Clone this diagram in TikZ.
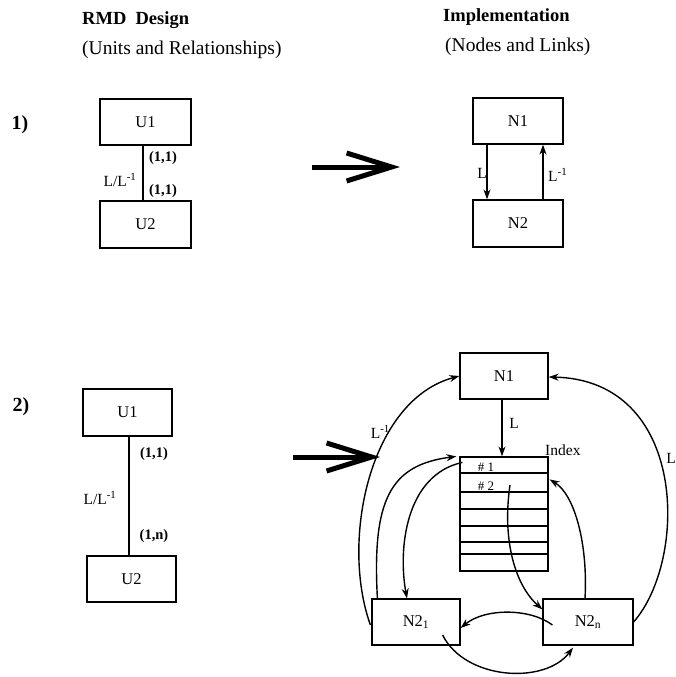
\documentclass[tikz,border=0pt]{standalone}
\usepackage{fontspec}
\setmainfont{Liberation Serif}
\usetikzlibrary{arrows.meta}
\begin{document}
\begin{tikzpicture}[x=1pt,y=1pt,
  box/.style={draw, line width=1.2pt, inner sep=0pt, font=\fontsize{16.5}{19}\selectfont},
  lbl/.style={inner sep=0pt, font=\fontsize{15.5}{18}\selectfont},
  card/.style={inner sep=0pt, font=\bfseries\fontsize{14.5}{17}\selectfont},
  title/.style={inner sep=0pt, anchor=west, font=\bfseries\fontsize{18.5}{22}\selectfont},
  subtitle/.style={inner sep=0pt, anchor=west, font=\fontsize{19.5}{23}\selectfont},
  num/.style={inner sep=0pt, font=\bfseries\fontsize{20}{24}\selectfont},
  small/.style={inner sep=0pt, font=\fontsize{13}{15}\selectfont},
  link/.style={line width=1.4pt},
  tip/.style={-{Stealth[length=10pt,width=7pt]}, line width=1.4pt},
  bigarrow/.style={-{Straight Barb[length=45pt,width=28pt]}, line width=5pt}
]
\useasboundingbox (0,0) rectangle (676,-677);

% titles
\node[title] (t1) at (82,-20) {RMD\ \ Design};
\node[subtitle] (t2) at (82,-50) {(Units and Relationships)};
\node[title] (t3) at (443,-17) {Implementation};
\node[subtitle] (t4) at (445,-47) {(Nodes and Links)};
\node[num] (c1) at (20,-125) {1)};
\node[num] (c2) at (21,-407) {2)};

% ---------- part 1 ----------
\node[box, minimum width=91pt, minimum height=46pt] (u1a) at (145.5,-122) {U1};
\node[box, minimum width=91pt, minimum height=47pt] (u2a) at (145.5,-224.5) {U2};
\draw[link] ([xshift=-2.5pt]u1a.south) -- ([xshift=-2.5pt]u2a.north);
\node[card] (ca1) at (163,-158) {(1,1)};
\node[card] (ca2) at (163,-191) {(1,1)};
\node[lbl] (la) at (120,-180) {L/L\textsuperscript{-1}};

\coordinate (a1s) at (312,-167);
\coordinate (a1e) at (400,-167);
\draw[bigarrow] (a1s) -- (a1e);

\node[box, minimum width=90pt, minimum height=46pt] (n1a) at (518,-121) {N1};
\node[box, minimum width=90pt, minimum height=47pt] (n2a) at (518,-223.5) {N2};
\draw[tip] ([xshift=-31pt]n1a.south) -- ([xshift=-31pt]n2a.north);
\draw[tip] ([xshift=25pt]n2a.north) -- ([xshift=25pt]n1a.south);
\node[lbl, anchor=east] (lL) at (487,-173) {L};
\node[lbl, anchor=west] (lLi) at (548,-175) {L\textsuperscript{-1}};

% ---------- part 2 ----------
\node[box, minimum width=89pt, minimum height=47pt] (u1b) at (127.5,-412.5) {U1};
\node[box, minimum width=89pt, minimum height=46pt] (u2b) at (131.5,-579) {U2};
\draw[link] ([xshift=1.5pt]u1b.south) -- ([xshift=-2.5pt]u2b.north);
\node[card] (cb1) at (154,-454) {(1,1)};
\node[card] (cb2) at (154,-536) {(1,n)};
\node[lbl] (lb) at (100,-498) {L/L\textsuperscript{-1}};

\coordinate (a2s) at (293,-457);
\coordinate (a2e) at (380,-457);
\draw[bigarrow] (a2s) -- (a2e);

\node[box, minimum width=88pt, minimum height=46pt] (n1b) at (504,-376) {N1};
\node[draw, line width=1.2pt, inner sep=0pt, minimum width=88pt, minimum height=114pt] (idx) at (504,-514) {};
\foreach \yy in {-473,-492,-509,-526,-542,-554}
  \draw[line width=1.2pt] (idx.west |- 0,\yy) -- (idx.east |- 0,\yy);
\node[lbl, anchor=west] (ixl) at (545,-450) {Index};
\node[small] (h1) at (486,-467) {\# 1};
\node[small] (h2) at (486,-486) {\# 2};
\draw[tip] ([xshift=-2pt]n1b.south) -- ([xshift=-2pt]idx.north);
\node[lbl] (lL2) at (514,-423) {L};

\node[box, minimum width=88pt, minimum height=46pt] (n21) at (416,-622) {N2\textsubscript{1}};
\node[box, minimum width=90pt, minimum height=46pt] (n2n) at (588,-622) {N2\textsubscript{n}};

% outer left L^-1
\draw[tip] ([xshift=-1pt,yshift=-3pt]n21.west) .. controls (340,-540) and (370,-400) .. (n1b.west);
\node[lbl, anchor=east] (lli) at (390,-432) {L\textsuperscript{-1}};
% outer right L
\draw[tip] (n2n.east) .. controls (688,-560) and (688,-380) .. ([yshift=-1pt]n1b.east);
\node[lbl, anchor=east] (lr) at (676,-458) {L};
% N2_1 -> index top-left
\draw[tip] ([xshift=6pt]n21.north west) .. controls (372,-500) and (390,-465) .. ([xshift=-3pt]idx.north west);
% #1 -> N2_1
\draw[tip] ([xshift=3pt,yshift=-6pt]idx.north west) .. controls (405,-475) and (398,-550) .. ([xshift=-9pt]n21.north);
% #2 -> N2_n
\draw[tip] (510,-485) .. controls (502,-540) and (515,-585) .. ([yshift=-11pt]n2n.north west);
% N2_n -> #1 right
\draw[tip] ([xshift=-3pt]n2n.north) .. controls (588,-545) and (575,-495) .. ([xshift=1pt,yshift=-23pt]idx.north east);
% N2_n -> N2_1
\draw[tip] ([xshift=10pt,yshift=-3pt]n2n.west) .. controls (530,-608) and (485,-608) .. ([yshift=-6pt]n21.east);
% N2_1 -> N2_n bottom
\draw[tip] ([xshift=-18pt,yshift=-13pt]n21.east) .. controls (465,-680) and (545,-685) .. ([xshift=-15pt,yshift=-2pt]n2n.south);
\end{tikzpicture}
\end{document}
